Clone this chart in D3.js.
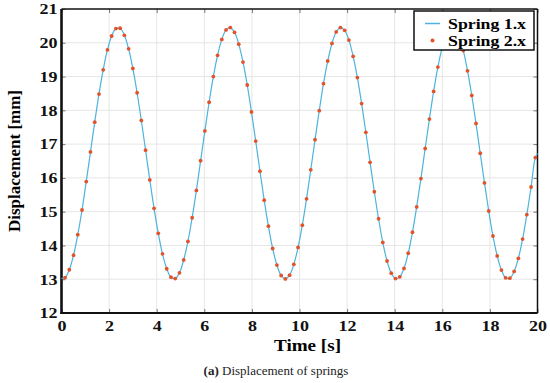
<!DOCTYPE html>
<html>
<head>
<meta charset="utf-8">
<script src="https://cdn.jsdelivr.net/npm/d3@7"></script>
<style>
  body { margin: 0; background: #fff; }
  svg { display: block; }
</style>
</head>
<body>
<div id="chart"></div>
<script>
var svg, x, y, margin, width, height

// Displacement of spring 2 [mm], one marker every sampleStep seconds from sampleStart
const sampleStart = 0.15
const sampleStep = 0.178
const spring2 = [
  13.05, 13.28, 13.71, 14.32, 15.05, 15.89, 16.77, 17.65, 18.48, 19.20,
  19.79, 20.20, 20.42, 20.43, 20.22, 19.82, 19.24, 18.52, 17.70, 16.82,
  15.94, 15.10, 14.36, 13.75, 13.31, 13.06, 13.02, 13.19, 13.57, 14.12,
  14.82, 15.63, 16.51, 17.39, 18.24, 19.00, 19.63, 20.10, 20.38, 20.45,
  20.31, 19.96, 19.43, 18.75, 17.95, 17.09, 16.20, 15.34, 14.57, 13.91,
  13.42, 13.11, 13.01, 13.12, 13.44, 13.94, 14.60, 15.38, 16.24, 17.13,
  17.99, 18.79, 19.46, 19.98, 20.32, 20.45, 20.37, 20.08, 19.60, 18.97,
  18.20, 17.35, 16.46, 15.59, 14.79, 14.09, 13.54, 13.18, 13.02, 13.07,
  13.32, 13.77, 14.39, 15.14, 15.98, 16.87, 17.74, 18.56, 19.28, 19.85,
  20.24, 20.43, 20.41, 20.19, 19.77, 19.17, 18.44, 17.61, 16.73, 15.85,
  15.02, 14.28, 13.69, 13.27, 13.04, 13.03, 13.23, 13.62, 14.19, 14.91,
  15.73, 16.60
]
// Spring 1 follows the same curve; these are its values at t = 0 and t = 20
const spring1Ends = [13.02, 16.72]

const xTicks = [0, 2, 4, 6, 8, 10, 12, 14, 16, 18, 20]
const yTicks = [12, 13, 14, 15, 16, 17, 18, 19, 20, 21]
const seriesNames = ["Spring 1.x", "Spring 2.x"]

const blue = "#4db3de"
const orange = "#e2532a"
const serif = "'Liberation Serif', 'Times New Roman', serif"

function drawChart() {
    margin = { top: 9, right: 12.5, bottom: 70, left: 61.5 };
    width = 550 - margin.left - margin.right;
    height = 383 - margin.top - margin.bottom;

    svg = d3.select("#chart")
        .append("svg")
        .attr("width", 550)
        .attr("height", 383)
        .append("g")
        .attr("transform", "translate(" + margin.left + "," + margin.top + ")");

    x = d3.scaleLinear().domain([0, 20]).range([0, width]);
    y = d3.scaleLinear().domain([12, 21]).range([height, 0]);

    // grid lines
    svg.append("g")
        .selectAll("line.gx")
        .data(xTicks.slice(1, -1))
        .join("line")
        .attr("x1", (d) => x(d)).attr("x2", (d) => x(d))
        .attr("y1", 0).attr("y2", height)
        .attr("stroke", "#e6e6e6");
    svg.append("g")
        .selectAll("line.gy")
        .data(yTicks.slice(1, -1))
        .join("line")
        .attr("x1", 0).attr("x2", width)
        .attr("y1", (d) => y(d)).attr("y2", (d) => y(d))
        .attr("stroke", "#e6e6e6");

    // inward ticks on top and right (MATLAB box style)
    svg.append("g")
        .call(d3.axisBottom(x).tickValues(xTicks).tickSize(4).tickFormat(""))
        .call((g) => g.select(".domain").remove())
        .selectAll("line").attr("stroke", "#777");
    svg.append("g")
        .attr("transform", "translate(" + width + ",0)")
        .call(d3.axisLeft(y).tickValues(yTicks).tickSize(4).tickFormat(""))
        .call((g) => g.select(".domain").remove())
        .selectAll("line").attr("stroke", "#777");

    // bottom axis
    var xAxis = svg.append("g")
        .attr("transform", "translate(0," + height + ")")
        .call(d3.axisBottom(x).tickValues(xTicks).tickSize(-4).tickSizeOuter(0));
    xAxis.select(".domain").remove();
    xAxis.selectAll("line").attr("stroke", "#777");
    xAxis.selectAll("text")
        .attr("y", 0)
        .attr("dy", "0.72em")
        .attr("transform", "translate(0,7) scale(1.2,1)")
        .style("font-family", serif)
        .style("font-size", "15px")
        .style("font-weight", "bold")
        .attr("fill", "#111");

    // left axis
    var yAxis = svg.append("g")
        .call(d3.axisLeft(y).tickValues(yTicks).tickSize(-4).tickSizeOuter(0));
    yAxis.select(".domain").remove();
    yAxis.selectAll("line").attr("stroke", "#777");
    yAxis.selectAll("text")
        .attr("x", 0)
        .attr("transform", "translate(-4,0) scale(1.2,1)")
        .style("font-family", serif)
        .style("font-size", "15px")
        .style("font-weight", "bold")
        .attr("fill", "#111");

    // box
    svg.append("line").attr("x1", 0).attr("x2", width).attr("y1", 0).attr("y2", 0)
        .attr("stroke", "#111").attr("stroke-width", 1.5);
    svg.append("line").attr("x1", width).attr("x2", width).attr("y1", 0).attr("y2", height)
        .attr("stroke", "#111").attr("stroke-width", 1.5);
    svg.append("line").attr("x1", -1).attr("x2", width).attr("y1", height).attr("y2", height)
        .attr("stroke", "#111").attr("stroke-width", 2.2);
    svg.append("line").attr("x1", 0).attr("x2", 0).attr("y1", 0).attr("y2", height + 1)
        .attr("stroke", "#111").attr("stroke-width", 2.6);

    // series
    var pts = spring2.map((v, i) => [sampleStart + i * sampleStep, v]);
    var linePts = [[0, spring1Ends[0]]].concat(pts, [[20, spring1Ends[1]]]);

    var line = d3.line()
        .x((d) => x(d[0]))
        .y((d) => y(d[1]))
        .curve(d3.curveCatmullRom);

    svg.append("path")
        .datum(linePts)
        .attr("fill", "none")
        .attr("stroke", blue)
        .attr("stroke-width", 1.2)
        .attr("d", line);

    svg.append("g")
        .selectAll("circle")
        .data(pts)
        .join("circle")
        .attr("cx", (d) => x(d[0]))
        .attr("cy", (d) => y(d[1]))
        .attr("r", 1.9)
        .attr("fill", orange);

    // axis titles
    svg.append("text")
        .attr("x", 274 - margin.left)
        .attr("y", 351 - margin.top)
        .attr("textLength", 67)
        .attr("lengthAdjust", "spacingAndGlyphs")
        .style("font-family", serif)
        .style("font-size", "17px")
        .style("font-weight", "bold")
        .text("Time [s]");

    svg.append("text")
        .attr("transform", "rotate(-90)")
        .attr("x", -(161 - margin.top))
        .attr("y", 20 - margin.left)
        .attr("text-anchor", "middle")
        .attr("textLength", 142)
        .attr("lengthAdjust", "spacingAndGlyphs")
        .style("font-family", serif)
        .style("font-size", "17px")
        .style("font-weight", "bold")
        .text("Displacement [mm]");

    // legend
    var lg = svg.append("g")
        .attr("transform", "translate(" + (414 - margin.left) + "," + (11 - margin.top) + ")");
    lg.append("rect")
        .attr("width", 120).attr("height", 39)
        .attr("fill", "#fff").attr("stroke", "#111").attr("stroke-width", 1.5);
    lg.append("line")
        .attr("x1", 11).attr("x2", 26).attr("y1", 12.5).attr("y2", 12.5)
        .attr("stroke", blue).attr("stroke-width", 1.5);
    lg.append("circle")
        .attr("cx", 18.5).attr("cy", 29.5).attr("r", 2)
        .attr("fill", orange);
    lg.selectAll("text")
        .data(seriesNames)
        .join("text")
        .attr("x", 34)
        .attr("y", (d, i) => 17.5 + i * 17)
        .attr("textLength", 78)
        .attr("lengthAdjust", "spacingAndGlyphs")
        .style("font-family", serif)
        .style("font-size", "15px")
        .style("font-weight", "bold")
        .text((d) => d);

    // caption under the figure
    var cap = d3.select("svg").append("text")
        .attr("x", 276)
        .attr("y", 375)
        .attr("text-anchor", "middle")
        .style("font-family", serif)
        .style("font-size", "13px")
        .attr("fill", "#222");
    cap.append("tspan").style("font-weight", "bold").text("(a)");
    cap.append("tspan").text(" Displacement of springs");
}

drawChart();
</script>
</body>
</html>
